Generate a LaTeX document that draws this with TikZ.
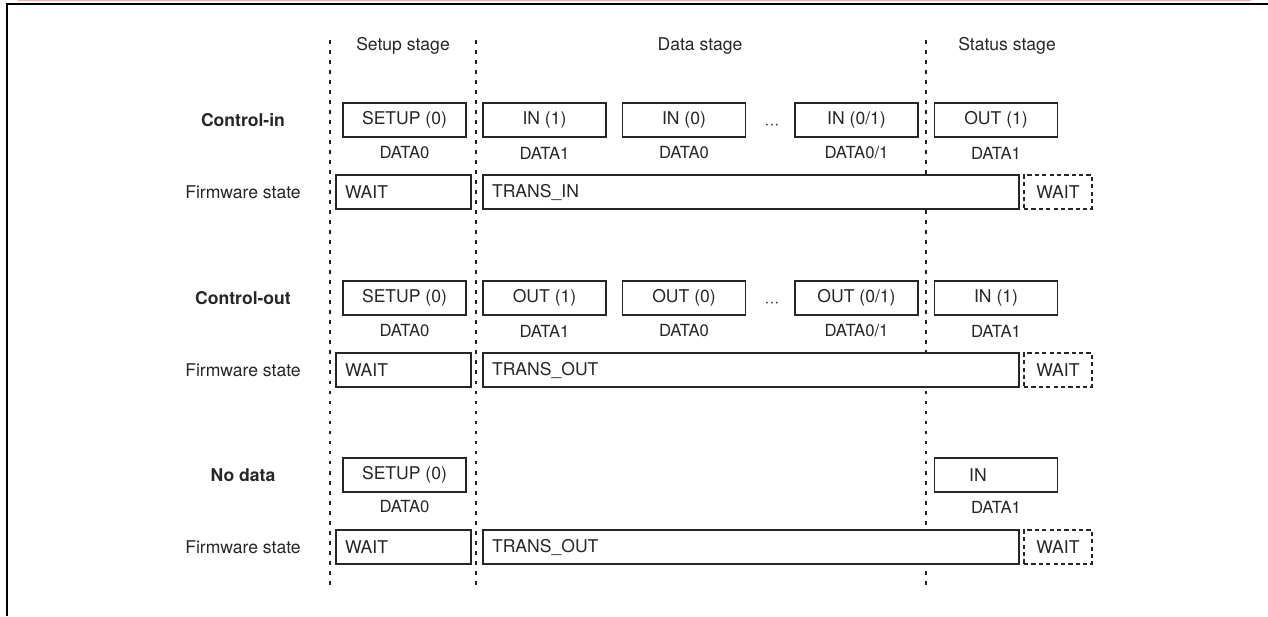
\documentclass[tikz,border=0pt]{standalone}
\usepackage{fontspec}
\setmainfont{TeX Gyre Heros}
\usetikzlibrary{positioning}

\tikzset{
  packet/.style={draw=black!85,line width=1pt,fill=white,minimum width=2.46cm,minimum height=0.68cm,inner sep=0pt},
  pid/.style={font=\fontsize{9.5}{11}\selectfont,text=black!85},
  state/.style={draw=black!85,line width=1pt,fill=white,minimum height=0.68cm,align=left,inner xsep=0.18cm,inner ysep=0pt},
  idle/.style={draw=black!85,line width=1pt,dash pattern=on 2.4pt off 1.8pt,fill=white,minimum width=1.36cm,minimum height=0.68cm,inner sep=0pt},
  stageline/.style={black!85,line width=0.6pt,dash pattern=on 2.2pt off 3.5pt}
}

\begin{document}
\begin{tikzpicture}[x=0.02cm,y=-0.02cm,text=black!85]
\useasboundingbox (0,0) rectangle (1268,616);

% Frame
\draw[red!35,line width=0.6pt] (18,0.6)--(1251,0.6);
\draw[line width=1.2pt] (7,616)--(7,4.3)--(1268,4.3);

% Stage borders
\foreach \x in {330,476,926}
\draw[stageline] (\x,40)--(\x,588);

% Stages
\node (setup) at (403,46) {Setup stage};
\node (data) at (700,46) {Data stage};
\node (status) at (1007,46) {Status stage};

% Control-in
\node (cin) at (243,120) {\bfseries Control-in};
\node (cinfw) at (243,192) {Firmware state};
\foreach \x/\t/\d/\n in {404.5/{SETUP (0)}/DATA0/a,544.5/{IN (1)}/DATA1/b,684/{IN (0)}/DATA0/c,856.5/{IN (0/1)}/{DATA0/1}/d,996/{OUT (1)}/DATA1/e}
{
\node[packet] (cin\n) at (\x,120) {\t};
\node[pid] (cin\n pid) at (\x,153) {\d};
}
\node[anchor=base] (cindots) at (772,129) {···};
\node[state,text width=2.34cm] (cinwait) at (403.5,192) {WAIT};
\node[state,text width=10.36cm] (cintrans) at (751,192) {TRANS\_IN};
\node[idle] (cinidle) at (1058,192) {WAIT};

% Control-out
\node (cout) at (243,298) {\bfseries Control-out};
\node (coutfw) at (243,370) {Firmware state};
\foreach \x/\t/\d/\n in {404.5/{SETUP (0)}/DATA0/a,544.5/{OUT (1)}/DATA1/b,684/{OUT (0)}/DATA0/c,856.5/{OUT (0/1)}/{DATA0/1}/d,996/{IN (1)}/DATA1/e}
{
\node[packet] (cout\n) at (\x,298) {\t};
\node[pid] (cout\n pid) at (\x,331) {\d};
}
\node[anchor=base] (coutdots) at (772,307) {···};
\node[state,text width=2.34cm] (coutwait) at (403.5,370) {WAIT};
\node[state,text width=10.36cm] (couttrans) at (751,370) {TRANS\_OUT};
\node[idle] (coutidle) at (1058,370) {WAIT};

% No data
\node (nod) at (243,475) {\bfseries No data};
\node (nodfw) at (243,547) {Firmware state};
\node[packet] (noda) at (404.5,475) {SETUP (0)};
\node[pid] (nodapid) at (404.5,507) {DATA0};
\node[packet] (node) at (996,475) {IN\hspace*{0.72cm}};
\node[pid] (nodepid) at (996,507) {DATA1};
\node[state,text width=2.34cm] (nodwait) at (403.5,547) {WAIT};
\node[state,text width=10.36cm] (nodtrans) at (751,547) {TRANS\_OUT};
\node[idle] (nodidle) at (1058,547) {WAIT};

\end{tikzpicture}
\end{document}
